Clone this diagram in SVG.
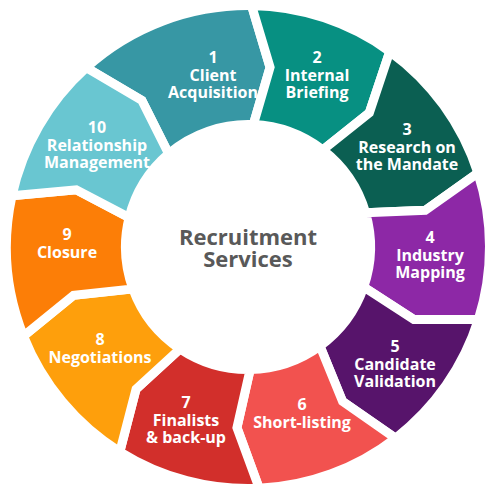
<svg xmlns="http://www.w3.org/2000/svg" width="500" height="499" viewBox="0 0 500 499">
<style>
.seg{stroke:#ffffff;stroke-width:9;stroke-linejoin:miter}
.lbl{font-family:"Open Sans","Noto Sans",sans-serif;font-weight:700;font-size:16px;fill:#ffffff;text-anchor:middle}
.ctr{font-family:"Open Sans","Noto Sans",sans-serif;font-weight:700;font-size:22px;fill:#595959;text-anchor:middle}
</style>
<rect width="500" height="499" fill="#ffffff"/>
<g id="node1">
<path class="seg" fill="#3797a4" d="M86.25,67.67 A241.5,241.5 0 0 1 251.58,5.53 L270.06,67.35 L253.34,124.62 A122.5,122.5 0 0 0 168.61,153.71 L141.87,100.38 Z"/>
<text class="lbl" x="213" y="63">1</text><text class="lbl" x="213" y="80.5">Client</text><text class="lbl" x="213" y="98">Acquisition</text>
</g>
<g id="node2">
<path class="seg" fill="#079082" d="M251.58,5.53 A241.5,241.5 0 0 1 389.78,51.5 L369.35,112.7 L322.74,149.94 A122.5,122.5 0 0 0 253.34,124.62 L270.06,67.35 Z"/>
<text class="lbl" x="317" y="63">2</text><text class="lbl" x="317" y="80.5">Internal</text><text class="lbl" x="317" y="98">Briefing</text>
</g>
<g id="node3">
<path class="seg" fill="#0b5f52" d="M389.78,51.5 A241.5,241.5 0 0 1 477.87,172.97 L425.24,210.3 L365.64,212.82 A122.5,122.5 0 0 0 322.74,149.94 L369.35,112.7 Z"/>
<text class="lbl" x="407" y="135">3</text><text class="lbl" x="407" y="152.5">Research on</text><text class="lbl" x="407" y="170">the Mandate</text>
</g>
<g id="node4">
<path class="seg" fill="#8d28a6" d="M477.87,172.97 A241.5,241.5 0 0 1 478.39,319.42 L413.86,319.46 L363.76,287.08 A122.5,122.5 0 0 0 365.64,212.82 L425.24,210.3 Z"/>
<text class="lbl" x="430" y="243">4</text><text class="lbl" x="430" y="260.5">Industry</text><text class="lbl" x="430" y="278">Mapping</text>
</g>
<g id="node5">
<path class="seg" fill="#57146b" d="M478.39,319.42 A241.5,241.5 0 0 1 395.52,438.21 L342.57,401.33 L320,346.1 A122.5,122.5 0 0 0 363.76,287.08 L413.86,319.46 Z"/>
<text class="lbl" x="395" y="352">5</text><text class="lbl" x="395" y="369.5">Candidate</text><text class="lbl" x="395" y="387">Validation</text>
</g>
<g id="node6">
<path class="seg" fill="#f2524f" d="M395.52,438.21 A241.5,241.5 0 0 1 259.17,488.24 L236.95,427.66 L250.14,369.48 A122.5,122.5 0 0 0 320,346.1 L342.57,401.33 Z"/>
<text class="lbl" x="302" y="410">6</text><text class="lbl" x="302" y="427.5">Short-listing</text>
</g>
<g id="node7">
<path class="seg" fill="#d22f2b" d="M259.17,488.24 A241.5,241.5 0 0 1 119.84,451.69 L136.07,389.24 L180.03,348.91 A122.5,122.5 0 0 0 250.14,369.48 L236.95,427.66 Z"/>
<text class="lbl" x="186" y="408">7</text><text class="lbl" x="186" y="425.5">Finalists</text><text class="lbl" x="186" y="443">&amp; back-up</text>
</g>
<g id="node8">
<path class="seg" fill="#fe9f0c" d="M119.84,451.69 A241.5,241.5 0 0 1 23.53,336.09 L73.58,295.37 L132.89,288.9 A122.5,122.5 0 0 0 180.03,348.91 L136.07,389.24 Z"/>
<text class="lbl" x="100" y="345">8</text><text class="lbl" x="100" y="362.5">Negotiations</text>
</g>
<g id="node9">
<path class="seg" fill="#fc7e07" d="M23.53,336.09 A241.5,241.5 0 0 1 12,195.76 L76.25,189.87 L129.09,217.57 A122.5,122.5 0 0 0 132.89,288.9 L73.58,295.37 Z"/>
<text class="lbl" x="67" y="240">9</text><text class="lbl" x="67" y="257.5">Closure</text>
</g>
<g id="node10">
<path class="seg" fill="#69c6d1" d="M12,195.76 A241.5,241.5 0 0 1 86.25,67.67 L141.87,100.38 L168.61,153.71 A122.5,122.5 0 0 0 129.09,217.57 L76.25,189.87 Z"/>
<text class="lbl" x="97" y="133">10</text><text class="lbl" x="97" y="150.5">Relationship</text><text class="lbl" x="97" y="168">Management</text>
</g>
<g id="center">
<text class="ctr" x="248" y="245">Recruitment</text>
<text class="ctr" x="248" y="267">Services</text>
</g>
</svg>
